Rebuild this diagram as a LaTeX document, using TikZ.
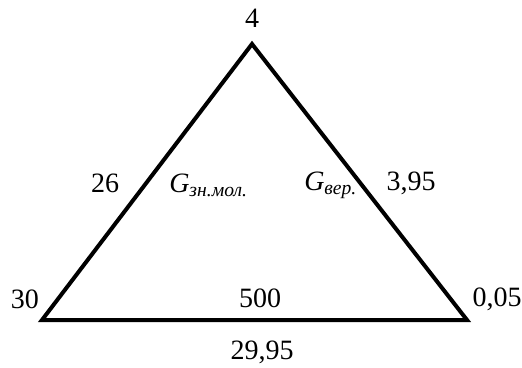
\documentclass[tikz,border=0pt]{standalone}
\usepackage{fontspec}
\setmainfont{Liberation Serif}
\usepackage{tikz}

\begin{document}
\begin{tikzpicture}[x=0.75pt,y=-0.75pt,every node/.style={font=\fontsize{21}{25}\selectfont,inner sep=0pt}]
  \useasboundingbox (0,0) rectangle (522,368);
  \coordinate (L) at (42,320); \coordinate (R) at (467,320); \coordinate (T) at (252,44);
  \draw[line width=3pt,line join=miter] (L)--(R)--(T)--cycle;
  \node (top) at (252,18) {4};
  \node (left) at (105,183) {26};
  \node[anchor=west] (gzn) at (169,185) {\textit{G\textsubscript{зн.мол.}}};
  \node[anchor=west] (gver) at (304,185) {\textit{G\textsubscript{вер.}}};
  \node (right) at (411,183) {3,95};
  \node (bl) at (25,299) {30};
  \node (mid) at (260,298) {500};
  \node (br) at (497,299) {0,05};
  \node (bot) at (262,352) {29,95};
\end{tikzpicture}
\end{document}
